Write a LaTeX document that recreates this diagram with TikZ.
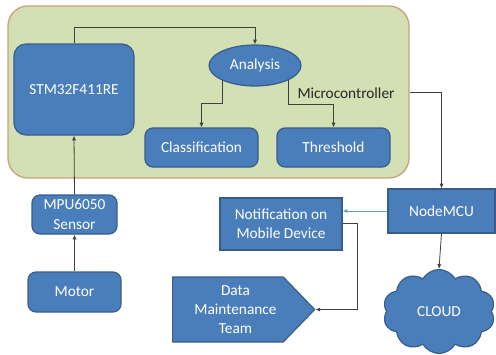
\documentclass[tikz,border=0pt]{standalone}
\usepackage{fontspec}
\setmainfont{Carlito}
\usetikzlibrary{arrows.meta,shapes.geometric,shapes.symbols,fit}
\definecolor{boxblue}{HTML}{4A7EBB}
\definecolor{boxline}{HTML}{385D8A}
\definecolor{panelfill}{HTML}{D2E0B4}
\definecolor{panelline}{HTML}{C9A27A}
\definecolor{linkblue}{HTML}{6A9BD1}
\tikzset{
  block/.style={draw=boxline,fill=boxblue,line width=0.9pt,text=white,align=center,
    inner sep=0pt,font=\fontsize{11.5}{14.5}\selectfont},
  rblock/.style={block,rounded corners=6pt},
  arr/.style={draw=black!75,line width=0.6pt,-{Latex[length=3.5pt,width=3pt]}}
}
\begin{document}
\begin{tikzpicture}[x=0.75pt,y=-0.75pt]
    \useasboundingbox (0,0) rectangle (496,354);
    % microcontroller panel
    \node[draw=panelline,fill=panelfill,line width=1pt,rounded corners=15pt,
      inner sep=0pt,fit={(8,6) (409,178)}] (mcu) {};
    \node[font=\fontsize{11.5}{14.5}\selectfont,text=black!85] (mculbl) at (346,93) {Microcontroller};
    \node[rblock,rounded corners=9pt,minimum width=90pt,minimum height=68.25pt] (stm) at (74,89.5) {STM32F411RE};
    \node[block,ellipse,minimum width=69pt,minimum height=30.75pt] (ana) at (255,65.5) {Analysis};
    \node[rblock,minimum width=84.75pt,minimum height=29.25pt] (cls) at (201.5,147.5) {Classification};
    \node[rblock,minimum width=84.75pt,minimum height=29.25pt] (thr) at (333.5,147.5) {Threshold};
    % outside the panel
    \node[rblock,minimum width=63.75pt,minimum height=29.25pt] (mpu) at (74.5,214.5) {MPU6050\\Sensor};
    \node[rblock,minimum width=69.75pt,minimum height=30pt] (motor) at (74.5,292) {Motor};
    \node[block,minimum width=80.25pt,minimum height=33pt] (nmcu) at (441.5,211) {NodeMCU};
    \node[block,minimum width=91.5pt,minimum height=39pt] (notif) at (281,224) {Notification on\\Mobile Device};
    \node[block,signal,signal to=east,signal pointer angle=92,text width=83pt,
      minimum height=48.75pt,anchor=west] (team) at (172,309.5) {};
    \node[block,draw=none,fill=none] (teamtxt) at (235.5,309.5) {Data\\Maintenance\\Team};
    \node[block,cloud,cloud puffs=10,cloud puff arc=120,minimum width=84pt,
      minimum height=63pt] (cloud) at (439,311.5) {CLOUD};
    % connectors
    \draw[arr] (motor.north) -- (mpu.south);
    \draw[arr] (mpu.north) -- (stm.south);
    \draw[arr] (stm.north) -- ++(0,-16) -| (ana.north);
    \draw[arr] (ana.south west) -- ++(0,23) -| (cls.north);
    \draw[arr] (ana.south east) -- ++(0,24) -| (thr.north);
    \draw[arr] (mcu.east) -| (nmcu.north);
    \draw[arr,draw=linkblue] (nmcu.west) -- (nmcu.west -| notif.east);
    \draw[arr] (notif.east) ++(0,-1) -- ++(15,0) |- (team.east);
    \draw[arr] (nmcu.south) -- (cloud.north);
\end{tikzpicture}
\end{document}
